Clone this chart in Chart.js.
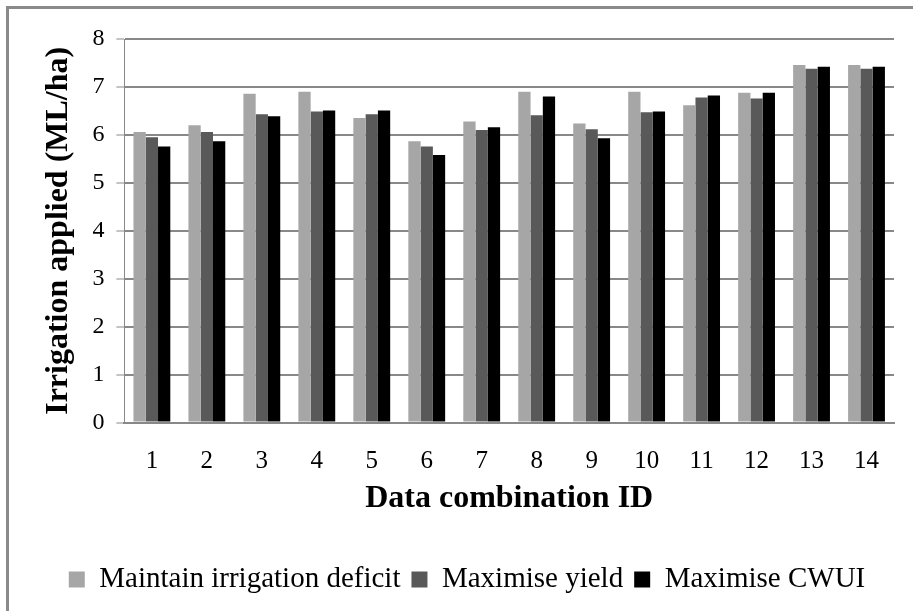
<!DOCTYPE html>
<html>
<head>
<meta charset="utf-8">
<script src="https://cdn.jsdelivr.net/npm/chart.js@4/dist/chart.umd.min.js"></script>
<style>
    html, body { margin: 0; padding: 0; background: #ffffff; }
    #wrap { position: relative; width: 913px; height: 611px; }
    #frame {
        position: absolute; left: 6px; top: 6px; width: 1000px; height: 1000px;
        border-left: 3px solid #8a8a8a; border-top: 3px solid #8a8a8a;
        pointer-events: none;
    }
</style>
</head>
<body>
<div id="wrap">
    <canvas id="irrigationChart" width="913" height="611"></canvas>
    <div id="frame"></div>
</div>
<script>
// Data
const combinationIds = ['1', '2', '3', '4', '5', '6', '7', '8', '9', '10', '11', '12', '13', '14'];
const maintainDeficit = [6.06, 6.20, 6.86, 6.90, 6.35, 5.87, 6.28, 6.90, 6.24, 6.90, 6.62, 6.88, 7.46, 7.46];
const maximiseYield = [5.95, 6.06, 6.43, 6.49, 6.43, 5.76, 6.10, 6.41, 6.12, 6.47, 6.78, 6.76, 7.38, 7.38];
const maximiseCwui = [5.76, 5.87, 6.39, 6.51, 6.51, 5.58, 6.16, 6.80, 5.93, 6.49, 6.82, 6.88, 7.42, 7.42];
const yTicks = [0, 1, 2, 3, 4, 5, 6, 7, 8];

const serif = "'Liberation Serif', 'Times New Roman', serif";

Chart.defaults.animation = false;
Chart.defaults.color = '#000000';

new Chart(document.getElementById('irrigationChart'), {
    type: 'bar',
    data: {
        labels: combinationIds,
        datasets: [
            {
                label: 'Maintain irrigation deficit',
                data: maintainDeficit,
                backgroundColor: '#a6a6a6'
            },
            {
                label: 'Maximise yield',
                data: maximiseYield,
                backgroundColor: '#595959'
            },
            {
                label: 'Maximise CWUI',
                data: maximiseCwui,
                backgroundColor: '#000000'
            }
        ]
    },
    options: {
        responsive: false,
        maintainAspectRatio: false,
        layout: {
            padding: { left: 40, right: 19, top: 39, bottom: 7 }
        },
        datasets: {
            bar: {
                categoryPercentage: 0.67,
                barPercentage: 1.0
            }
        },
        plugins: {
            tooltip: { enabled: false },
            legend: {
                position: 'bottom',
                labels: {
                    font: { family: serif, size: 29 },
                    color: '#000000',
                    boxWidth: 16,
                    boxHeight: 16,
                    padding: 11
                }
            }
        },
        scales: {
            x: {
                grid: {
                    display: false,
                    drawTicks: false
                },
                border: { color: '#888888', width: 2 },
                ticks: {
                    font: { family: serif, size: 25 },
                    color: '#000000',
                    padding: 24,
                    maxRotation: 0
                },
                title: {
                    display: true,
                    text: 'Data combination ID',
                    font: { family: serif, size: 32, weight: 'bold' },
                    color: '#000000',
                    padding: { top: -21, bottom: 36 }
                }
            },
            y: {
                min: 0,
                max: 8,
                afterBuildTicks: axis => {
                    axis.ticks = yTicks.map(v => ({ value: v }));
                },
                grid: {
                    color: '#888888',
                    lineWidth: 2,
                    tickLength: 8,
                    tickColor: '#888888',
                    tickWidth: 1
                },
                border: { color: '#888888', width: 1 },
                ticks: {
                    font: { family: serif, size: 24 },
                    color: '#000000',
                    padding: 12
                },
                title: {
                    display: true,
                    text: 'Irrigation applied (ML/ha)',
                    font: { family: serif, size: 32, weight: 'bold' },
                    color: '#000000',
                    padding: { top: 0, bottom: 2 }
                }
            }
        }
    }
});
</script>
</body>
</html>
